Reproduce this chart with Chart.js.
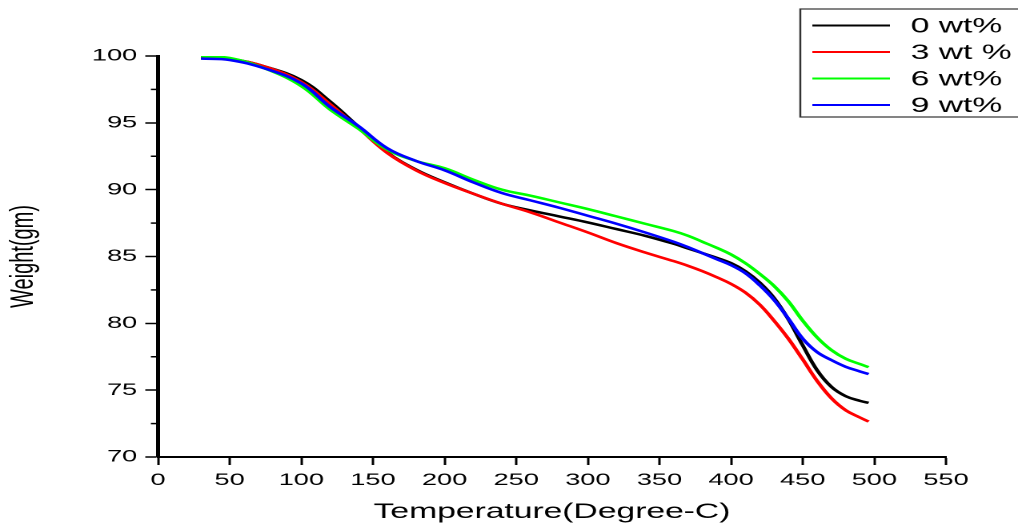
<!DOCTYPE html>
<html>
<head>
<meta charset="utf-8">
<script src="https://cdn.jsdelivr.net/npm/chart.js@4/dist/chart.umd.min.js"></script>
<style>
  html, body { margin: 0; padding: 0; background: #fff; overflow: hidden; }
  #wrap { width: 636px; height: 525px; transform: scaleX(1.6006); transform-origin: 0 0; }
</style>
</head>
<body>
<div id="wrap"><canvas id="tgaChart" width="636" height="525"></canvas></div>
<script>
// temperature (Degree-C) sample points shared by all curves
const temps = [30, 50, 75, 100, 120, 140, 160, 180, 200, 220, 240, 260, 280, 300, 320, 340, 360, 370, 380, 390, 400, 410, 420, 430, 440, 450, 460, 470, 480, 490, 496];

// weight (gm) for each filler loading
const w0 = [99.85, 99.8, 99.2, 98.2, 96.6, 94.7, 92.8, 91.5, 90.55, 89.7, 88.95, 88.45, 88.0, 87.55, 87.05, 86.55, 85.95, 85.6, 85.25, 84.9, 84.5, 83.9, 83.05, 81.9, 80.3, 78.35, 76.5, 75.25, 74.55, 74.2, 74.05];
const w3 = [100.0, 99.8, 99.2, 98.05, 96.4, 94.6, 92.75, 91.45, 90.5, 89.7, 88.95, 88.3, 87.55, 86.8, 86.0, 85.3, 84.65, 84.3, 83.9, 83.45, 82.95, 82.3, 81.4, 80.2, 78.85, 77.3, 75.7, 74.4, 73.5, 72.95, 72.65];
const w6 = [100.0, 99.85, 99.05, 97.75, 96.0, 94.55, 93.0, 92.15, 91.6, 90.75, 90.0, 89.55, 89.05, 88.55, 88.0, 87.45, 86.9, 86.55, 86.1, 85.65, 85.15, 84.5, 83.7, 82.8, 81.65, 80.2, 78.95, 78.0, 77.35, 76.95, 76.72];
const w9 = [99.8, 99.7, 99.05, 97.95, 96.2, 94.75, 93.1, 92.15, 91.45, 90.55, 89.75, 89.2, 88.65, 88.05, 87.45, 86.8, 86.1, 85.7, 85.25, 84.8, 84.35, 83.75, 82.85, 81.75, 80.35, 78.85, 77.85, 77.25, 76.75, 76.4, 76.2];

const seriesNames = ['0 wt%', '3 wt %', '6 wt%', '9 wt%'];
const seriesColors = ['#000000', '#ff0000', '#00ff00', '#0000ff'];
const seriesValues = [w0, w3, w6, w9];

const FONT = '"Liberation Sans", Arial, sans-serif';

// short unlabelled ticks halfway between the labelled weight ticks
const minorTicks = {
    id: 'minorTicks',
    afterDraw(chart) {
        const y = chart.scales.y;
        const ctx = chart.ctx;
        ctx.save();
        ctx.strokeStyle = '#000';
        ctx.lineWidth = 1.5;
        for (let v = y.min + 2.5; v < y.max; v += 5) {
            const py = y.getPixelForValue(v);
            ctx.beginPath();
            ctx.moveTo(y.right - 4.5, py);
            ctx.lineTo(y.right, py);
            ctx.stroke();
        }
        ctx.restore();
    }
};

// boxed legend in the top right corner
const boxLegend = {
    id: 'boxLegend',
    afterDraw(chart) {
        const ctx = chart.ctx;
        ctx.save();
        ctx.strokeStyle = '#333';
        ctx.lineWidth = 1.2;
        ctx.strokeRect(500, 9, 200, 108);
        ctx.font = '21px ' + FONT;
        ctx.textBaseline = 'middle';
        ctx.fillStyle = '#000';
        chart.data.datasets.forEach((ds, i) => {
            const ly = 25.5 + i * 26.5;
            ctx.strokeStyle = ds.borderColor;
            ctx.lineWidth = 2;
            ctx.beginPath();
            ctx.moveTo(507.5, ly);
            ctx.lineTo(556, ly);
            ctx.stroke();
            ctx.fillText(ds.label, 569, ly + 1);
        });
        ctx.restore();
    }
};

const datasets = seriesValues.map((vals, i) => ({
    label: seriesNames[i],
    data: temps.map((t, k) => ({ x: t, y: vals[k] })),
    borderColor: seriesColors[i],
    backgroundColor: seriesColors[i],
    borderWidth: 2.5,
    pointRadius: 0,
    fill: false,
    tension: 0.4,
    order: seriesValues.length - i
}));

new Chart(document.getElementById('tgaChart'), {
    type: 'line',
    data: { datasets: datasets },
    options: {
        responsive: false,
        animation: false,
        devicePixelRatio: 2,
        layout: { padding: { left: 0, right: 45, top: 56, bottom: 0 } },
        plugins: {
            legend: { display: false },
            tooltip: { enabled: false }
        },
        scales: {
            x: {
                type: 'linear',
                min: 0,
                max: 550,
                afterFit: (scale) => { scale.height = 68; },
                ticks: {
                    stepSize: 50,
                    padding: 5,
                    color: '#000',
                    font: { family: FONT, size: 17 },
                    maxRotation: 0
                },
                grid: {
                    drawOnChartArea: false,
                    tickLength: 8,
                    tickWidth: 1.5,
                    tickColor: '#000'
                },
                border: { display: true, color: '#000', width: 2 },
                title: {
                    display: true,
                    text: 'Temperature(Degree-C)',
                    color: '#000',
                    font: { family: FONT, size: 21 },
                    padding: { top: 0, bottom: 0 }
                }
            },
            y: {
                min: 70,
                max: 100,
                afterFit: (scale) => { scale.width = 98.75; },
                ticks: {
                    stepSize: 5,
                    padding: 5,
                    color: '#000',
                    font: { family: FONT, size: 17 }
                },
                grid: {
                    drawOnChartArea: false,
                    tickLength: 8,
                    tickWidth: 1.5,
                    tickColor: '#000'
                },
                border: { display: true, color: '#000', width: 2.5 },
                title: {
                    display: true,
                    text: 'Weight(gm)',
                    color: '#000',
                    font: { family: FONT, size: 20 },
                    padding: { top: 3, bottom: 0 }
                }
            }
        }
    },
    plugins: [minorTicks, boxLegend]
});
</script>
</body>
</html>
